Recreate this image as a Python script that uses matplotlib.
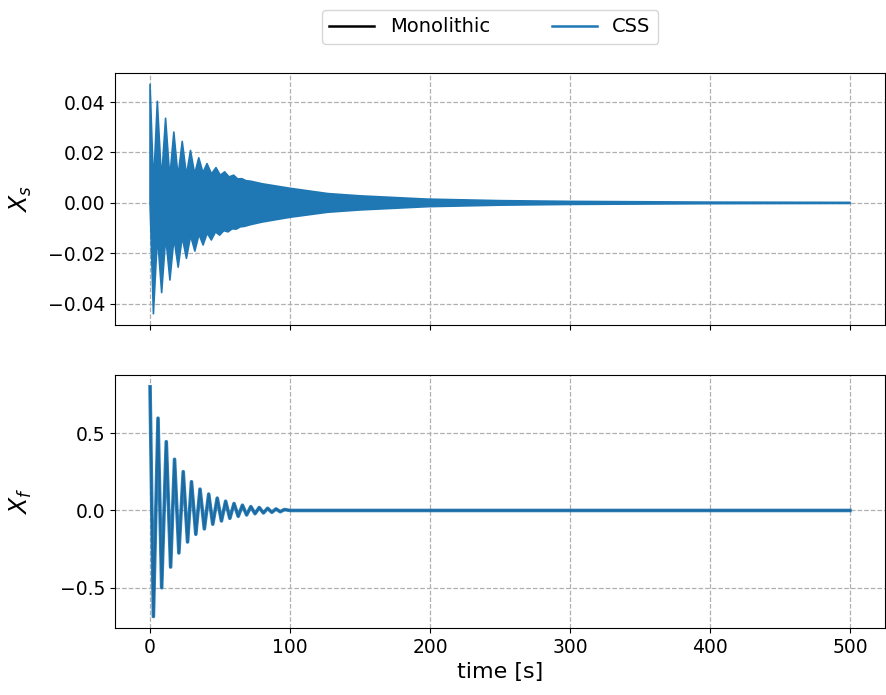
import numpy as np
import matplotlib.pyplot as plt

# X_f extrema (time [s], value)
xf_t = [0, 2.4, 5.7, 8.3, 11.6, 14.7, 17.5, 20.6, 23.7, 26.8, 29.6, 32.7,
        35.7, 38.8, 41.9, 44.8, 48.0, 51.0, 54.0, 57.0, 60.0, 63.0, 66.0,
        69.0, 72.0, 75.0, 78.0, 81.0, 84.0, 87.0, 90.0, 93.0, 96.0, 100,
        150, 200, 300, 400, 500]
xf_val = [0.80, -0.686, 0.597, -0.50, 0.445, -0.366, 0.331, -0.275, 0.251,
          -0.204, 0.186, -0.154, 0.138, -0.119, 0.106, -0.089, 0.080, -0.068,
          0.060, -0.051, 0.045, -0.038, 0.034, -0.029, 0.025, -0.021, 0.019,
          -0.016, 0.014, -0.012, 0.010, -0.008, 0.006, 0.0,
          0.0, 0.0, 0.0, 0.0, 0.0]

# X_s band: upper envelope (beat peaks and dips between them)
xs_up_t = [0, 2.5, 5.2, 8.2, 11.1, 14.1, 17.0, 20.0, 23.0, 26.0, 28.9, 31.9,
           34.8, 37.8, 40.7, 43.9, 47.1, 50.2, 53.3, 56.5, 59.7, 62.6, 65.6,
           68.6, 72, 80, 100, 127, 150, 198, 250, 300, 400, 500]
xs_up = [0.047, 0.007, 0.0403, 0.009, 0.0336, 0.010, 0.0281, 0.0105, 0.0244,
         0.011, 0.0208, 0.0115, 0.0179, 0.012, 0.0156, 0.0115, 0.014, 0.011,
         0.0123, 0.0103, 0.011, 0.0095, 0.0096, 0.0088, 0.0086, 0.0076,
         0.0058, 0.0037, 0.0028, 0.0015, 0.0009, 0.0006, 0.0003, 0.0002]
# X_s band: lower envelope
xs_lo_t = [0, 2.4, 5.3, 8.3, 11.2, 14.2, 17.1, 20.1, 23.0, 26.0, 29.0, 32.0,
           35.0, 37.9, 40.8, 43.8, 46.8, 49.7, 52.7, 55.7, 58.6, 61.6, 64.5,
           67.5, 72, 80, 100, 127, 150, 198, 250, 300, 400, 500]
xs_lo = [0.0, -0.044, -0.013, -0.0356, -0.0135, -0.0306, -0.014, -0.0255,
         -0.0135, -0.022, -0.013, -0.0191, -0.0125, -0.0167, -0.012, -0.0147,
         -0.0115, -0.0128, -0.011, -0.0115, -0.0103, -0.0104, -0.0095,
         -0.0093, -0.0086, -0.0076, -0.0057, -0.0037, -0.0028, -0.0015,
         -0.0009, -0.0006, -0.0003, -0.0002]

blue = "#1f77b4"

fig = plt.figure(figsize=(8.87, 6.95), dpi=100)
ax1 = fig.add_axes([0.1297, 0.532, 0.868, 0.363])
ax2 = fig.add_axes([0.1297, 0.0964, 0.868, 0.3636], sharex=ax1)

# upper panel: dense oscillation drawn as its envelope band
band_x = np.r_[xs_up_t, xs_lo_t[::-1]]
band_y = np.r_[xs_up, xs_lo[::-1]]
ax1.fill(band_x, band_y, color=blue, lw=1.2, joinstyle="round", zorder=3)
ax1.set_ylabel("$X_s$", fontsize=17)
ax1.set_yticks([-0.04, -0.02, 0.0, 0.02, 0.04])
ax1.tick_params(labelbottom=False)

# lower panel
ax2.plot(xf_t, xf_val, color="black", lw=1.5, label="Monolithic", zorder=3)
ax2.plot(xf_t, xf_val, color=blue, lw=2.6, alpha=0.9, label="CSS", zorder=4)
ax2.set_ylabel("$X_f$", fontsize=17)
ax2.set_xlabel("time [s]", fontsize=16)
ax2.set_yticks([-0.5, 0.0, 0.5])

for ax in (ax1, ax2):
    ax.grid(True, linestyle="--", color="#b0b0b0", lw=0.9)
    ax.tick_params(labelsize=13.5)
    ax.set_axisbelow(True)
    ax.yaxis.set_label_coords(-0.105, 0.5)
ax1.set_xlim(-25, 525)

handles, labels = ax2.get_legend_handles_labels()
leg = fig.legend(handles, labels, loc="upper center", ncol=2, fontsize=14,
                 bbox_to_anchor=(0.5525, 1.0), columnspacing=3.2,
                 handlelength=2.3)
for h in leg.get_lines():
    h.set_linewidth(1.8)
    h.set_alpha(1)

fig.savefig("out.png", dpi=100)
